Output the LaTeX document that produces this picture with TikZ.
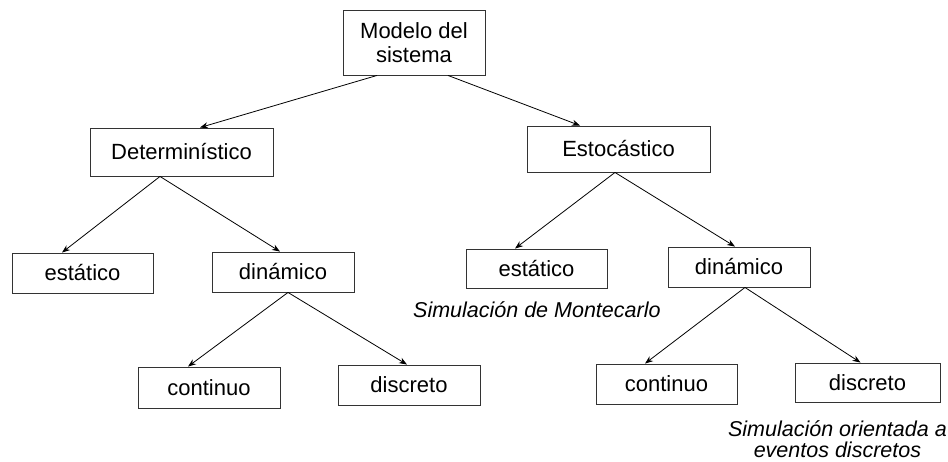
\documentclass[tikz,border=0pt]{standalone}
\usepackage{fontspec}
\setmainfont{Liberation Sans}
\usepackage{tikz}
\usetikzlibrary{positioning, calc, arrows.meta}
\tikzstyle{box} = [rectangle, draw=black!80, line width=0.9pt, text centered, inner sep=0pt, font=\fontsize{22}{24}\selectfont]
\tikzstyle{note} = [font=\fontsize{21.5}{21}\selectfont\itshape, inner sep=0pt]
\tikzstyle{myarrow} = [-{Stealth[length=8pt,width=6pt]}, line width=0.8pt]

\begin{document}
\begin{tikzpicture}[x=1pt, y=-1pt]
\useasboundingbox (0,0) rectangle (948,461);
\node(model)[box, minimum width=142pt, minimum height=65pt, align=center] at (414,42.5) {Modelo del\\sistema};
\node(det)[box, minimum width=183pt, minimum height=48pt] at (181.5,152) {Determinístico};
\node(sto)[box, minimum width=183pt, minimum height=46pt] at (618.5,149) {Estocástico};
\node(detStat)[box, minimum width=141pt, minimum height=40pt] at (82.5,273) {estático};
\node(detDyn)[box, minimum width=142pt, minimum height=40pt] at (283,272) {dinámico};
\node(stoStat)[box, minimum width=141pt, minimum height=39pt] at (536.5,268.5) {estático};
\node(stoDyn)[box, minimum width=142pt, minimum height=40pt] at (739,267) {dinámico};
\node(detCont)[box, minimum width=142pt, minimum height=41pt] at (209,387.5) {continuo};
\node(detDisc)[box, minimum width=142pt, minimum height=40pt] at (409,385) {discreto};
\node(stoCont)[box, minimum width=141pt, minimum height=40pt] at (666.5,384) {continuo};
\node(stoDisc)[box, minimum width=145pt, minimum height=39pt] at (867.5,382.5) {discreto};
\node(monte)[note, anchor=west] at (413,310) {Simulación de Montecarlo};
\node(events)[note, align=center, anchor=east] at (947,439) {Simulación orientada a\\eventos discretos};
\draw [myarrow] ([xshift=-37pt]model.south) -- ([xshift=18.5pt]det.north);
\draw [myarrow] ([xshift=34pt]model.south) -- ([xshift=-38.5pt]sto.north);
\draw [myarrow] ([xshift=-21.5pt]det.south) -- ([xshift=-20.5pt]detStat.north);
\draw [myarrow] ([xshift=-21.5pt]det.south) -- ([xshift=-3pt]detDyn.north);
\draw [myarrow] ([xshift=-3.5pt]sto.south) -- ([xshift=-21.5pt]stoStat.north);
\draw [myarrow] ([xshift=-3.5pt]sto.south) -- ([xshift=-4pt]stoDyn.north);
\draw [myarrow] ([xshift=5pt]detDyn.south) -- ([xshift=-21pt]detCont.north);
\draw [myarrow] ([xshift=5pt]detDyn.south) -- ([xshift=-2pt]detDisc.north);
\draw [myarrow] ([xshift=6pt]stoDyn.south) -- ([xshift=-21.5pt]stoCont.north);
\draw [myarrow] ([xshift=6pt]stoDyn.south) -- ([xshift=-7pt]stoDisc.north);
\end{tikzpicture}
\end{document}
